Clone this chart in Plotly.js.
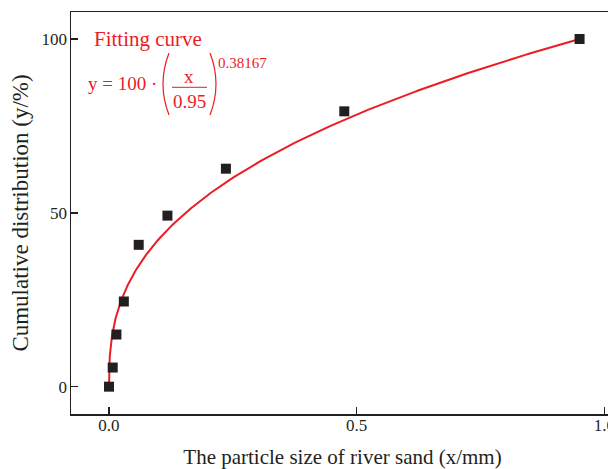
<!DOCTYPE html>
<html>
<head>
<meta charset="utf-8">
<script src="https://cdn.plot.ly/plotly-3.0.1.min.js"></script>
<style>
  html, body { margin: 0; padding: 0; overflow: hidden; background: #fff; }
  #chart { width: 620px; height: 469px; }
</style>
</head>
<body>
<div id="chart"></div>
<script>
// Sieve sizes of the river sand (mm, scaled) and cumulative passing (%)
const particleSize = [0, 0.0075, 0.015, 0.03, 0.06, 0.118, 0.236, 0.475, 0.95];
const cumulative   = [0, 5.5, 15.0, 24.5, 40.8, 49.2, 62.7, 79.2, 100];

// Fitted power law: y = 100 * (x / 0.95)^0.38167
const fitScale = 100;
const fitXmax = 0.95;
const fitExponent = 0.38167;

const xTickVals = [0, 0.5, 1.0];
const xTickText = ['0.0', '0.5', '1.0'];
const yTickVals = [0, 50, 100];
const yTickText = ['0', '50', '100'];

// Dense sampling of the fitted curve, packed near x = 0 where it is steep
const fitX = [];
const fitY = [];
for (let i = 0; i <= 300; i++) {
  const t = i / 300;
  const x = fitXmax * t * t * t;
  fitX.push(x);
  fitY.push(fitScale * Math.pow(x / fitXmax, fitExponent));
}

const RED = '#ec1c24';
const INK = '#231f20';
const FONT = 'Liberation Serif, Times New Roman, serif';

// Plot area geometry in pixels (used to place the equation label)
const M = { l: 71, r: 6, t: 12, b: 55 };
const W = 620, H = 469;
const PW = W - M.l - M.r, PH = H - M.t - M.b;
const px = v => (v - M.l) / PW;
const py = v => (H - M.b - v) / PH;

const traces = [
  {
    x: fitX, y: fitY, type: 'scatter', mode: 'lines',
    line: { color: RED, width: 2 }, hoverinfo: 'skip', showlegend: false
  },
  {
    x: particleSize, y: cumulative, type: 'scatter', mode: 'markers',
    marker: { symbol: 'square', size: 10, color: INK }, showlegend: false
  }
];

const txt = (text, x, y, size, xanchor) => ({
  text, xref: 'paper', yref: 'paper', x: px(x), y: py(y),
  xanchor: xanchor || 'left', yanchor: 'middle', showarrow: false,
  font: { family: FONT, size, color: RED }
});

const layout = {
  width: W, height: H,
  margin: M,
  paper_bgcolor: '#fff', plot_bgcolor: '#fff',
  font: { family: FONT, color: INK },
  showlegend: false,
  xaxis: {
    range: [-0.0767, 1.0195],
    tickvals: xTickVals, ticktext: xTickText,
    ticks: 'inside', ticklen: 7, tickwidth: 1.5, tickcolor: INK,
    ticklabelstandoff: -5,
    showline: true, linecolor: INK, linewidth: 1.5, mirror: true,
    showgrid: false, zeroline: false,
    tickfont: { family: FONT, size: 17, color: INK },
    title: { text: 'The particle size of river sand (x/mm)', font: { family: FONT, size: 21, color: INK }, standoff: 19 }
  },
  yaxis: {
    range: [-7.86, 107.77],
    tickvals: yTickVals, ticktext: yTickText,
    ticks: 'inside', ticklen: 7, tickwidth: 1.5, tickcolor: INK,
    ticklabelstandoff: -1,
    showline: true, linecolor: INK, linewidth: 1.5, mirror: true,
    showgrid: false, zeroline: false,
    tickfont: { family: FONT, size: 17, color: INK },
    title: { text: 'Cumulative distribution (y/%)', font: { family: FONT, size: 23, color: INK }, standoff: 6 }
  },
  annotations: [
    txt('Fitting curve', 92, 39, 21),
    txt('y = 100 \u00b7', 86, 84, 19),
    txt('x', 189, 76, 19, 'center'),
    txt('0.95', 189, 101, 19, 'center'),
    txt(fitExponent.toString(), 216, 63, 15)
  ],
  shapes: [
    // fraction bar
    { type: 'line', xref: 'paper', yref: 'paper', x0: px(172), x1: px(207), y0: py(87.3), y1: py(87.3),
      line: { color: RED, width: 1 } },
    // left and right parentheses
    { type: 'path', xref: 'paper', yref: 'paper',
      path: `M ${px(169)},${py(53)} Q ${px(157)},${py(84)} ${px(169)},${py(115)}`,
      line: { color: RED, width: 1.2 } },
    { type: 'path', xref: 'paper', yref: 'paper',
      path: `M ${px(210)},${py(53)} Q ${px(222)},${py(84)} ${px(210)},${py(115)}`,
      line: { color: RED, width: 1.2 } }
  ]
};

Plotly.newPlot('chart', traces, layout, { staticPlot: true, displayModeBar: false });
</script>
</body>
</html>
